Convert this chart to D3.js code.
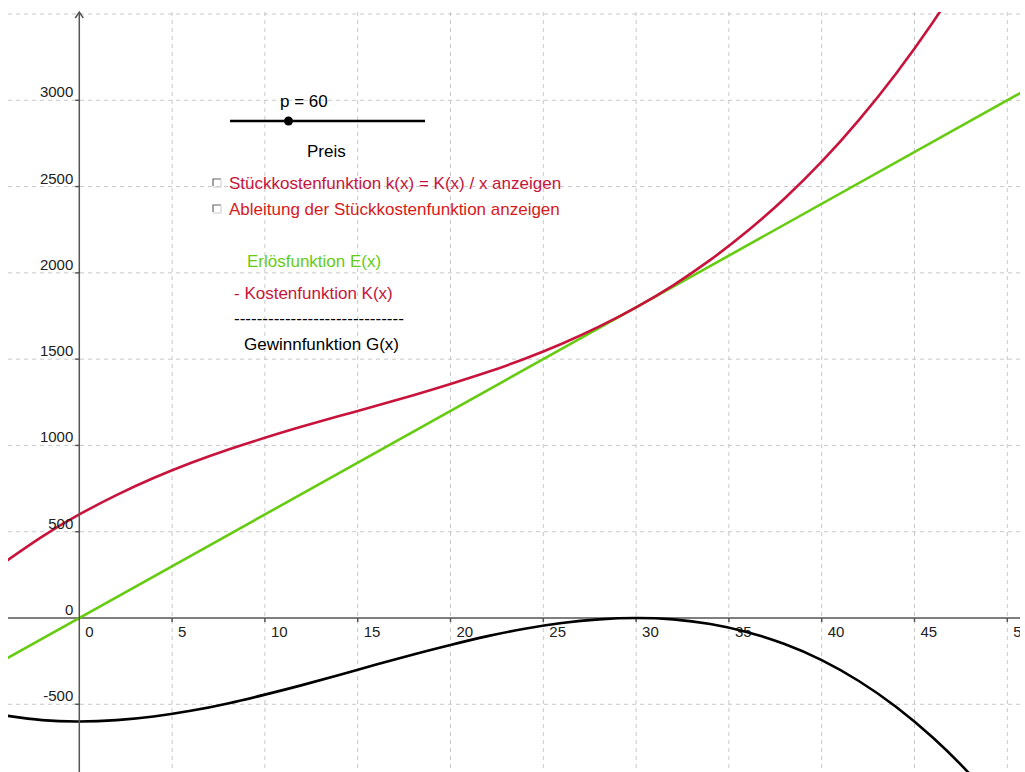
<!DOCTYPE html>
<html><head><meta charset="utf-8">
<script src="https://cdn.jsdelivr.net/npm/d3@7"></script>
<style>
html,body{margin:0;padding:0;background:#fff;}
svg{display:block;font-family:"Liberation Sans",Arial,sans-serif;}
</style></head>
<body>
<script>
// Data
const xs      = [-4,-2,0,2,4,6,8,10,12,14,16,18,20,22,24,26,28,30,32,34,36,38,40,42,44,46,48,50];
const kosten  = [325,472,600,712,811,898,975,1044,1109,1170,1230,1291,1356,1425,1502,1589,1688,1800,1928,2075,2242,2431,2644,2885,3154,3454,3787,4156];
const gewinn  = [-565,-592,-600,-592,-571,-538,-495,-444,-389,-330,-270,-211,-156,-105,-62,-29,-8,0,-8,-35,-82,-151,-244,-365,-514,-694,-907,-1156];
const erloesX = [-4,51];
const erloes  = [-240,3060];
const xTicks  = [0,5,10,15,20,25,30,35,40,45,50];
const yTicks  = [-500,0,500,1000,1500,2000,2500,3000];
const yGrid   = [-500,500,1000,1500,2000,2500,3000,3500];
const preis   = 60;

const W=1025,H=772;
const svg=d3.select("body").append("svg").attr("width",W).attr("height",H);
const x=d3.scaleLinear().domain([0,50]).range([79.3,1007.3]);
const y=d3.scaleLinear().domain([0,3500]).range([618,14]);
const clipL=8,clipR=1020,clipT=12,clipB=772;

svg.append("defs").append("clipPath").attr("id","c").append("rect")
  .attr("x",clipL).attr("y",clipT).attr("width",clipR-clipL).attr("height",clipB-clipT);

const gridCol="#c8c8c8";
const g=svg.append("g").attr("clip-path","url(#c)");
// grid
g.selectAll(".vg").data(xTicks.filter(d=>d!==0)).join("line")
  .attr("x1",d=>x(d)).attr("x2",d=>x(d)).attr("y1",clipT).attr("y2",clipB)
  .attr("stroke",gridCol).attr("stroke-dasharray","4,4").attr("stroke-width",1);
g.selectAll(".hg").data(yGrid).join("line")
  .attr("y1",d=>y(d)).attr("y2",d=>y(d)).attr("x1",clipL).attr("x2",clipR)
  .attr("stroke",gridCol).attr("stroke-dasharray","4,4").attr("stroke-width",1);

// axes
const axCol="#555";
g.append("line").attr("x1",clipL).attr("x2",clipR).attr("y1",y(0)).attr("y2",y(0))
  .attr("stroke",axCol).attr("stroke-width",1.5);
svg.append("line").attr("x1",x(0)).attr("x2",x(0)).attr("y1",12).attr("y2",clipB)
  .attr("stroke",axCol).attr("stroke-width",1.5);
svg.append("path").attr("d",`M${x(0)-4},${18} L${x(0)},${12} L${x(0)+4},${18}`)
  .attr("fill","none").attr("stroke",axCol).attr("stroke-width",1.5);
// ticks
g.selectAll(".xt").data(xTicks.filter(d=>d!==0)).join("line")
  .attr("x1",d=>x(d)).attr("x2",d=>x(d)).attr("y1",y(0)).attr("y2",y(0)+4)
  .attr("stroke",axCol).attr("stroke-width",1.5);
svg.selectAll(".yt").data(yTicks.filter(d=>d!==0)).join("line")
  .attr("x1",x(0)-4).attr("x2",x(0)).attr("y1",d=>y(d)).attr("y2",d=>y(d))
  .attr("stroke",axCol).attr("stroke-width",1.5);
// labels
g.selectAll(".xl").data(xTicks).join("text")
  .attr("x",d=>x(d)+6).attr("y",y(0)+19).attr("font-size",15).attr("fill","#222")
  .text(d=>d);
svg.selectAll(".yl").data(yTicks).join("text")
  .attr("x",x(0)-6).attr("y",d=>y(d)-3).attr("font-size",15).attr("fill","#222")
  .attr("text-anchor","end").text(d=>d);

// curves
const line=d3.line().curve(d3.curveNatural);
const red="#c8143c", green="#66cc11";
g.append("path").attr("d",line(erloesX.map((d,i)=>[x(d),y(erloes[i])])))
  .attr("fill","none").attr("stroke",green).attr("stroke-width",2.6);
g.append("path").attr("d",line(xs.map((d,i)=>[x(d),y(kosten[i])])))
  .attr("fill","none").attr("stroke",red).attr("stroke-width",2.6);
g.append("path").attr("d",line(xs.map((d,i)=>[x(d),y(gewinn[i])])))
  .attr("fill","none").attr("stroke","#000").attr("stroke-width",2.6);

// slider
const fs=17;
const sl=d3.scaleLinear().domain([0,200]).range([230,425]);
svg.append("line").attr("x1",230).attr("x2",425).attr("y1",121).attr("y2",121)
  .attr("stroke","#000").attr("stroke-width",2.5);
svg.append("circle").attr("cx",sl(preis)).attr("cy",121).attr("r",4.5).attr("fill","#000");
svg.append("text").attr("x",280).attr("y",107).attr("font-size",fs).attr("fill","#000").text("p = "+preis);
svg.append("text").attr("x",307).attr("y",157).attr("font-size",fs).attr("fill","#000").text("Preis");

// checkboxes
const cbs=[{t:"Stückkostenfunktion k(x) = K(x) / x anzeigen",y:189,c:"#c8143c"},
           {t:"Ableitung der Stückkostenfunktion anzeigen",y:215,c:"#d81a1a"}];
cbs.forEach(d=>{
  svg.append("path").attr("d",`M${213},${d.y-3} L${213},${d.y-10} L${221},${d.y-10}`)
    .attr("fill","none").attr("stroke","#666").attr("stroke-width",1.2);
  svg.append("path").attr("d",`M${213},${d.y-2} L${221},${d.y-2} L${221},${d.y-10}`)
    .attr("fill","none").attr("stroke","#ccc").attr("stroke-width",1);
  svg.append("text").attr("x",229).attr("y",d.y).attr("font-size",fs).attr("fill",d.c).text(d.t);
});

svg.append("text").attr("x",247).attr("y",267).attr("font-size",fs).attr("fill","#66cc11").text("Erlösfunktion E(x)");
svg.append("text").attr("x",234).attr("y",299).attr("font-size",fs).attr("fill","#c8143c").text("- Kostenfunktion K(x)");
svg.append("text").attr("x",234).attr("y",324).attr("font-size",fs).attr("fill","#000").text("------------------------------");
svg.append("text").attr("x",244).attr("y",350).attr("font-size",fs).attr("fill","#000").text("Gewinnfunktion G(x)");
</script>
</body></html>
